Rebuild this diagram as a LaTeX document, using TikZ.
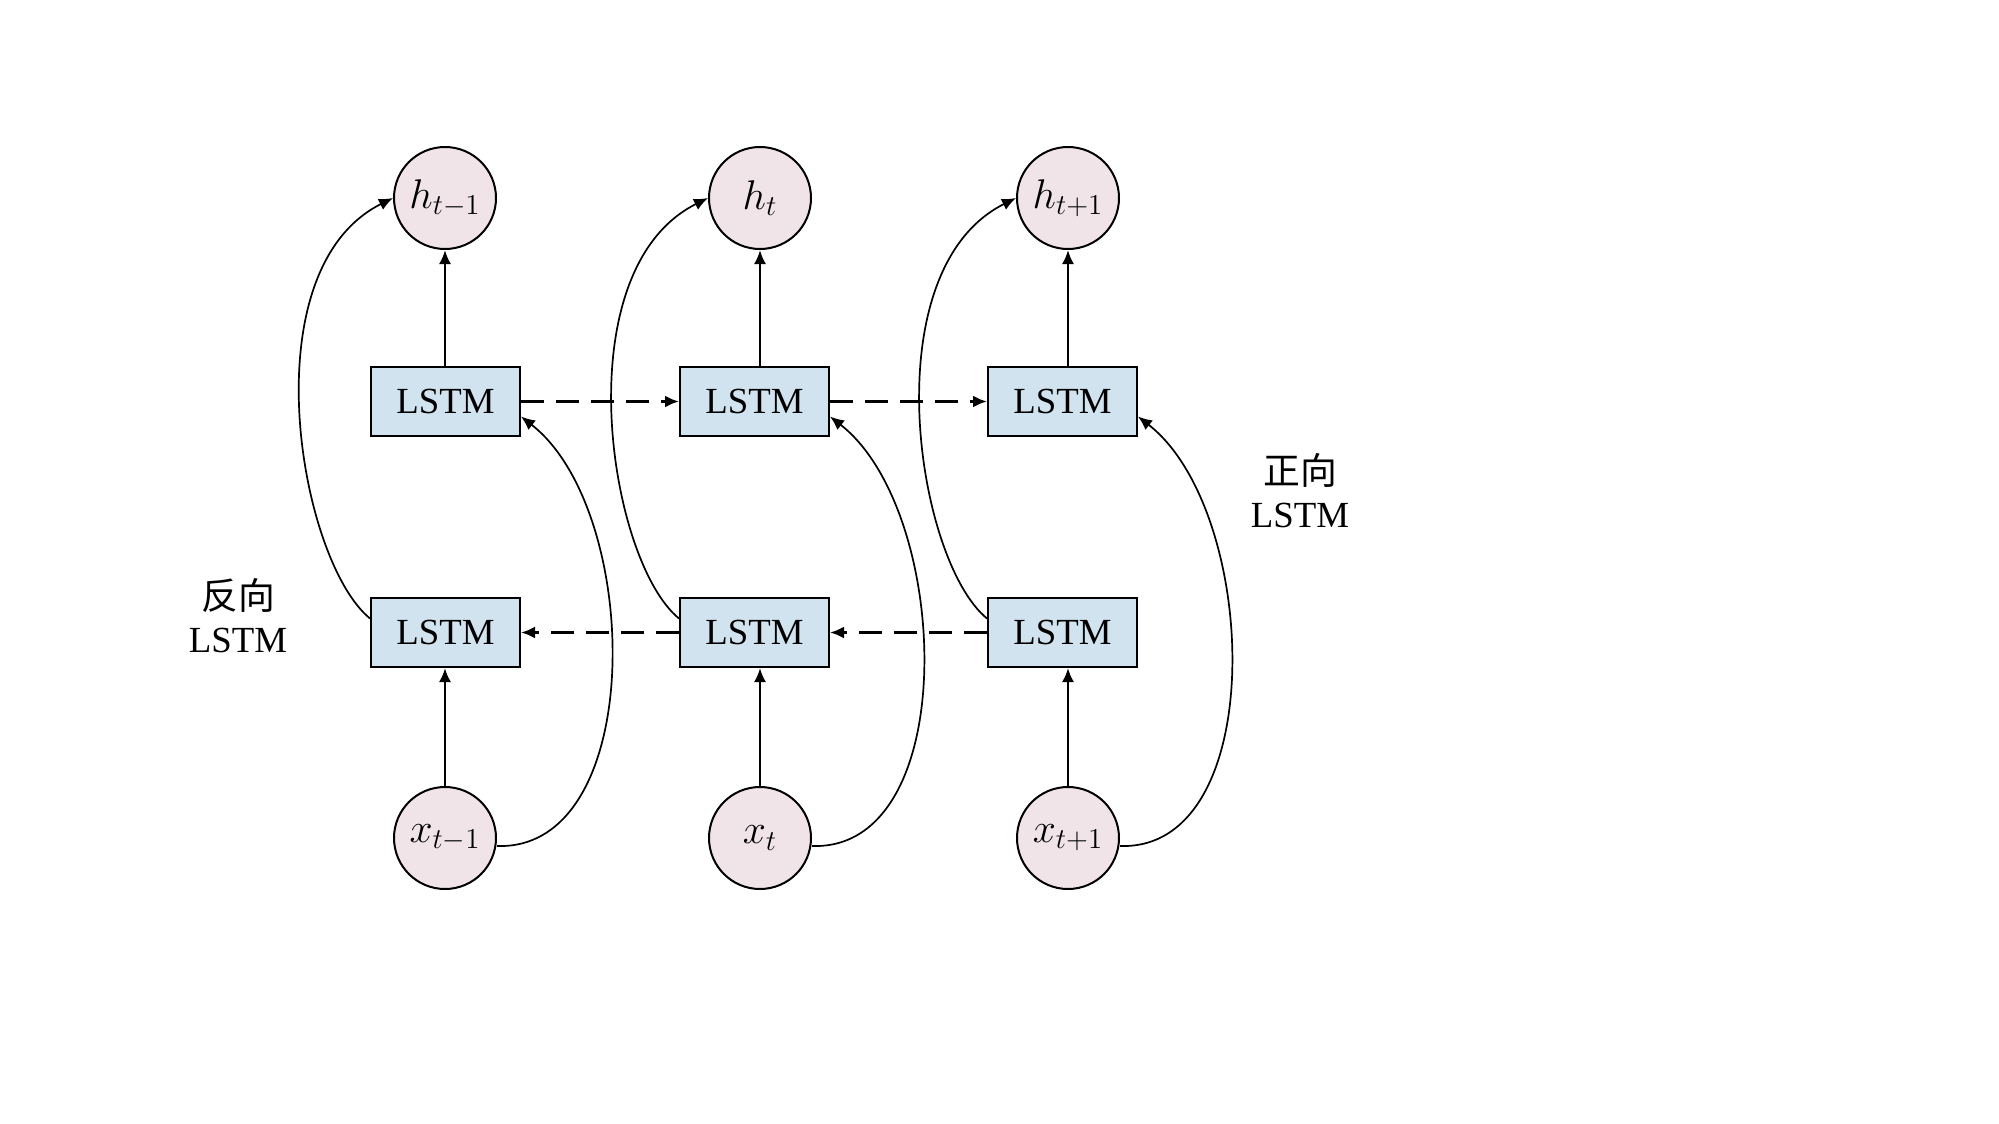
\documentclass[tikz,border=0pt]{standalone}
\usepackage{fontspec}
\setmainfont{Liberation Serif}
\newfontfamily\cjk{Noto Sans CJK SC}
\usetikzlibrary{arrows.meta}
\definecolor{boxblue}{RGB}{210,227,240}
\definecolor{circpink}{RGB}{240,228,232}
\begin{document}
\begin{tikzpicture}[x=0.5pt,y=-0.5pt,
  cell/.style={draw, fill=boxblue, line width=1pt, minimum width=74.5pt, minimum height=34.5pt, inner sep=0pt, font=\fontsize{18.4}{22}\selectfont},
  var/.style={circle, draw, fill=circpink, line width=1pt, minimum size=51pt, inner sep=0pt, font=\fontsize{19.5}{22}\selectfont},
  conn/.style={line width=1.1pt, -{Latex[length=7pt,width=6pt]}},
  curve/.style={line width=0.85pt, -{Latex[length=7pt,width=6pt]}},
  rec/.style={line width=1.35pt, dash pattern=on 11.5pt off 6pt, -{Latex[length=7pt,width=6pt]}},
  lab/.style={align=center, font=\fontsize{18.4}{21.5}\selectfont}]
\useasboundingbox (0,0) rectangle (1999,1124);
% circles
\node[var] (h1) at (445,198) {$h_{t-1}$};
\node[var] (h2) at (760,198) {$h_{t}$};
\node[var] (h3) at (1068,198) {$h_{t+1}$};
\node[var] (x1) at (445,838) {$x_{t-1}$};
\node[var] (x2) at (760,838) {$x_{t}$};
\node[var] (x3) at (1068,838) {$x_{t+1}$};
% LSTM cells
\node[cell] (t1) at (445.5,401.5) {LSTM};
\node[cell] (t2) at (754.5,401.5) {LSTM};
\node[cell] (t3) at (1062.5,401.5) {LSTM};
\node[cell] (b1) at (445.5,632.5) {LSTM};
\node[cell] (b2) at (754.5,632.5) {LSTM};
\node[cell] (b3) at (1062.5,632.5) {LSTM};
% labels
\node[lab] (lb) at (238,616) {{\cjk 反向}\\LSTM};
\node[lab] (lf) at (1300,491) {{\cjk 正向}\\LSTM};
% vertical arrows
\foreach \i in {1,2,3}{
  \draw[conn] (h\i |- t\i.north) -- (h\i.south);
  \draw[conn] (x\i.north) -- (x\i |- b\i.south);
}
% recurrent dashed
\draw[rec] (t1.east) -- (t2.west);
\draw[rec] (t2.east) -- (t3.west);
\draw[rec] (b2.west) -- (b1.east);
\draw[rec] (b3.west) -- (b2.east);
% skip curves
\foreach \i in {1,2,3}{
  \draw[curve] ([yshift=7pt]b\i.west) .. controls +(-71,-58) and +(-144,72) .. (h\i.west);
  \draw[curve] ([yshift=-4pt]x\i.east) .. controls +(150,5) and +(122,95) .. ([yshift=-7.5pt]t\i.east);
}
\end{tikzpicture}
\end{document}
